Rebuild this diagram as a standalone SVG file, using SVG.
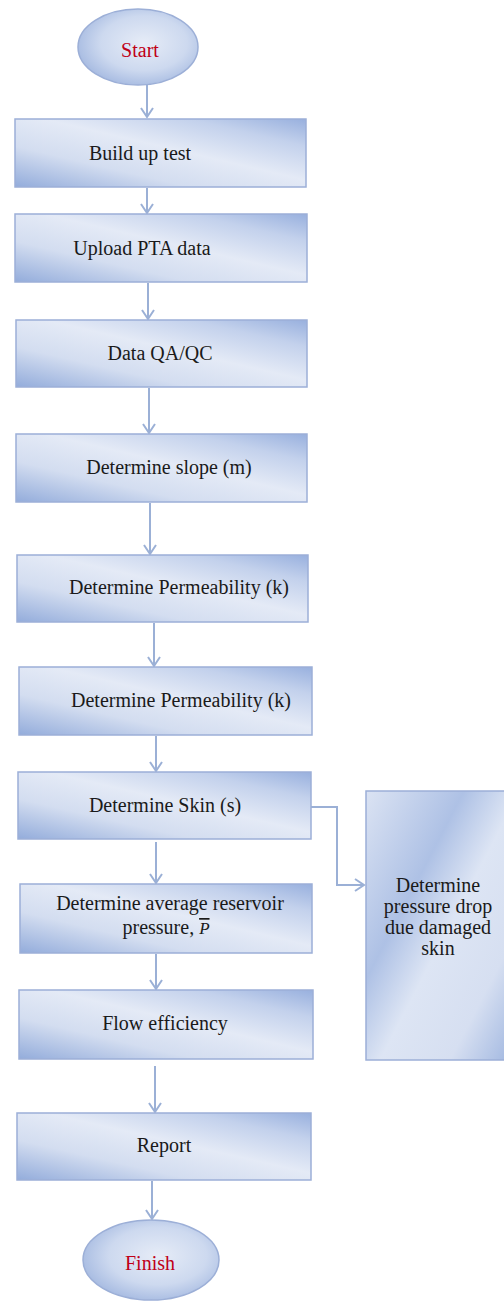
<svg xmlns="http://www.w3.org/2000/svg" width="504" height="1308" viewBox="0 0 504 1308">
<style>
.box{fill:url(#gb);stroke:#9cafd7;stroke-width:1.5}
.oval{fill:url(#go);stroke:#9cafd7;stroke-width:1.5}
text{font-family:'Liberation Serif','Times New Roman','DejaVu Serif',serif;font-size:20px;fill:#1a1a1a;text-anchor:middle}
.r{fill:#c00018}
.c{fill:none;stroke:#9bb0d6;stroke-width:2}
</style>
<defs>
<linearGradient id="gb" x1="0" y1="1" x2="1" y2="0">
<stop offset="0" stop-color="#93acdb"/>
<stop offset="0.3" stop-color="#d3ddf0"/>
<stop offset="0.55" stop-color="#e4eaf6"/>
<stop offset="0.8" stop-color="#c3d1ec"/>
<stop offset="1" stop-color="#98b0de"/>
</linearGradient>
<linearGradient id="gr" x1="0" y1="0" x2="1" y2="1">
<stop offset="0" stop-color="#dbe3f3"/>
<stop offset="0.35" stop-color="#aec1e5"/>
<stop offset="0.55" stop-color="#dde5f4"/>
<stop offset="0.8" stop-color="#d6dff1"/>
<stop offset="1" stop-color="#a6bbe2"/>
</linearGradient>
<radialGradient id="go" cx="0.55" cy="0.45" r="0.6">
<stop offset="0" stop-color="#e6ecf7"/>
<stop offset="0.6" stop-color="#cdd9ef"/>
<stop offset="1" stop-color="#a3b8e0"/>
</radialGradient>
<marker id="arr" markerUnits="userSpaceOnUse" markerWidth="14" markerHeight="14" viewBox="-12 -7 14 14" refX="0" refY="0" orient="auto">
<path d="M-9,-6 L0,0 L-9,6" fill="none" stroke="#9bb0d6" stroke-width="2"/>
</marker>
</defs>

<g id="connectors">
<line class="c" x1="147" y1="85" x2="147" y2="117" marker-end="url(#arr)"/>
<line class="c" x1="147" y1="188" x2="147" y2="213" marker-end="url(#arr)"/>
<line class="c" x1="148" y1="283" x2="148" y2="319" marker-end="url(#arr)"/>
<line class="c" x1="149" y1="388" x2="149" y2="433" marker-end="url(#arr)"/>
<line class="c" x1="150" y1="503" x2="150" y2="554" marker-end="url(#arr)"/>
<line class="c" x1="154" y1="623" x2="154" y2="666" marker-end="url(#arr)"/>
<line class="c" x1="156" y1="736" x2="156" y2="771" marker-end="url(#arr)"/>
<line class="c" x1="156" y1="842" x2="156" y2="883" marker-end="url(#arr)"/>
<line class="c" x1="156" y1="954" x2="156" y2="989" marker-end="url(#arr)"/>
<line class="c" x1="155" y1="1066" x2="155" y2="1112" marker-end="url(#arr)"/>
<line class="c" x1="152" y1="1181" x2="152" y2="1219" marker-end="url(#arr)"/>
<path class="c" d="M311,807 H337 V885 H364" marker-end="url(#arr)"/>
</g>

<g id="start">
<ellipse class="oval" cx="138" cy="47" rx="60" ry="38"/>
<text class="r" x="140" y="57">Start</text>
</g>
<g id="build">
<rect class="box" x="15" y="119" width="291" height="68"/>
<text x="140" y="160">Build up test</text>
</g>
<g id="upload">
<rect class="box" x="15" y="214" width="292" height="68"/>
<text x="142" y="255">Upload PTA data</text>
</g>
<g id="qaqc">
<rect class="box" x="16" y="320" width="291" height="67"/>
<text x="160" y="360">Data QA/QC</text>
</g>
<g id="slope">
<rect class="box" x="16" y="434" width="291" height="68"/>
<text x="169" y="474">Determine slope (m)</text>
</g>
<g id="perm1">
<rect class="box" x="17" y="555" width="291" height="67"/>
<text x="179" y="594">Determine Permeability (k)</text>
</g>
<g id="perm2">
<rect class="box" x="19" y="667" width="293" height="68"/>
<text x="181" y="707">Determine Permeability (k)</text>
</g>
<g id="skin">
<rect class="box" x="18" y="772" width="293" height="67"/>
<text x="165" y="812">Determine Skin (s)</text>
</g>
<g id="avg">
<rect class="box" x="20" y="884" width="292" height="69"/>
<text x="170" y="910">Determine average reservoir</text>
<text x="166" y="934">pressure,  <tspan font-style="italic" font-size="17px" text-decoration="overline">P</tspan></text>
</g>
<g id="flow">
<rect class="box" x="19" y="990" width="294" height="69"/>
<text x="165" y="1030">Flow efficiency</text>
</g>
<g id="report">
<rect class="box" x="17" y="1113" width="294" height="67"/>
<text x="164" y="1152">Report</text>
</g>
<g id="finish">
<ellipse class="oval" cx="151" cy="1260" rx="68" ry="40"/>
<text class="r" x="150" y="1270">Finish</text>
</g>
<g id="pressure-drop">
<rect fill="url(#gr)" stroke="#9cafd7" stroke-width="1.5" x="366" y="791" width="140" height="269"/>
<text x="438" y="892">Determine</text>
<text x="438" y="913">pressure drop</text>
<text x="438" y="934">due damaged</text>
<text x="438" y="955">skin</text>
</g>
</svg>
